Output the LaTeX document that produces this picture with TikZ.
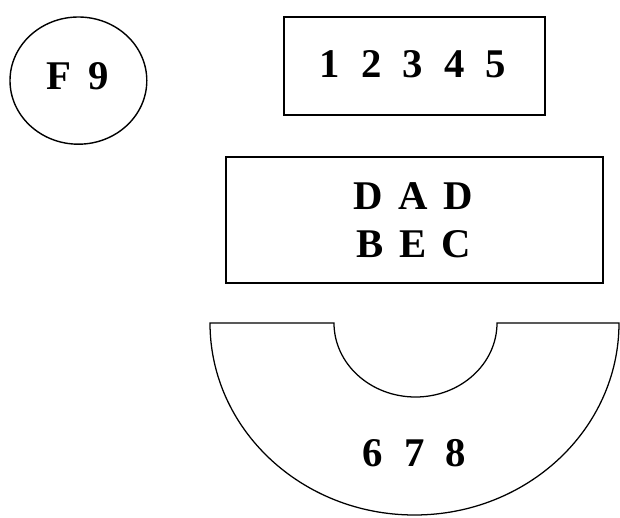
\documentclass[tikz,border=0pt]{standalone}
\usepackage{fontspec}
\setmainfont{Liberation Serif}
\usepackage{tikz}
\newlength{\lblgap}
\tikzset{
	lbl/.style={anchor=base, inner sep=0pt, font=\fontsize{29}{34}\selectfont\bfseries,
		execute at begin node={\setlength{\lblgap}{#1}\spaceskip=\lblgap\relax}},
	lbl/.default=15pt
}

\begin{document}
\begin{tikzpicture}
			%%%%% START %%%%%
			\useasboundingbox (0, 0) rectangle (15.5, 12.925);
			
			\draw[line width=1pt] (1.96, 10.91) ellipse (1.71 and 1.59);
			\node[lbl=12pt] (f9) at (1.95, 10.675) {F 9};
			
			\draw[line width=1.3pt] (7.1, 10.05) rectangle (13.625, 12.5);
			\node[lbl] (digits) at (10.325, 10.975) {1 2 3 4 5};
			
			\draw[line width=1.3pt] (5.65, 5.85) rectangle (15.075, 9);
			\node[lbl=11pt] (dad) at (10.325, 7.675) {D A D};
			\node[lbl=11pt] (bec) at (10.35, 6.5) {B E C};
			
			\draw[line width=0.9pt] (5.25, 4.85) -- (8.35, 4.85) arc (180:360:2.0375 and 1.85)
				-- (15.475, 4.85) arc (0:-180:5.1125 and 4.8) -- cycle;
			\node[lbl] (sixeight) at (10.36, 1.275) {6 7 8};
			%%%%% END %%%%%
\end{tikzpicture}
\end{document}
